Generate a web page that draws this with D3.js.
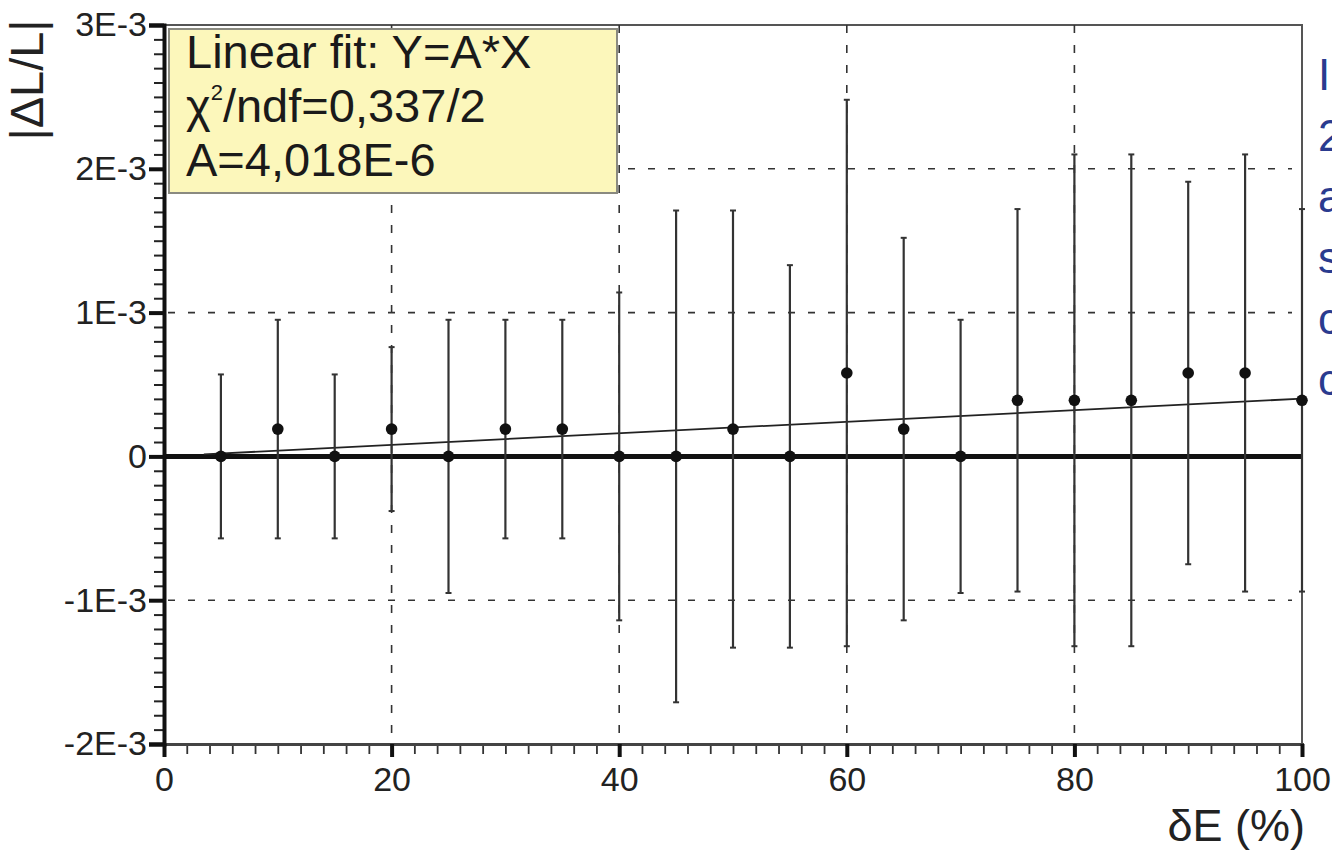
<!DOCTYPE html>
<html>
<head>
<meta charset="utf-8">
<script src="https://cdn.jsdelivr.net/npm/d3@7"></script>
<style>
  body { margin: 0; background: #fff; overflow: hidden; }
  text { font-family: "Liberation Sans", Arial, Helvetica, sans-serif; }
</style>
</head>
<body>
<svg id="chart" width="1332" height="852"></svg>
<script>
// Relative length change |ΔL/L| versus energy spread δE (%)
const energySpread = [5, 10, 15, 20, 25, 30, 35, 40, 45, 50, 55, 60, 65, 70, 75, 80, 85, 90, 95, 100];
const deltaL = [0, 0.19e-3, 0, 0.19e-3, 0, 0.19e-3, 0.19e-3, 0, 0, 0.19e-3,
                0, 0.58e-3, 0.19e-3, 0, 0.39e-3, 0.39e-3, 0.39e-3, 0.58e-3, 0.58e-3, 0.39e-3];
const deltaLErr = [0.57e-3, 0.76e-3, 0.57e-3, 0.57e-3, 0.95e-3, 0.76e-3, 0.76e-3, 1.14e-3, 1.71e-3, 1.52e-3,
                   1.33e-3, 1.9e-3, 1.33e-3, 0.95e-3, 1.33e-3, 1.71e-3, 1.71e-3, 1.33e-3, 1.52e-3, 1.33e-3];

// Linear fit Y = A*X
const fitSlope = 4.018e-6;
const fitRange = [3.5, 100];

const xTickValues = [0, 20, 40, 60, 80, 100];
const xTickLabels = ["0", "20", "40", "60", "80", "100"];
const yTickValues = [-2e-3, -1e-3, 0, 1e-3, 2e-3, 3e-3];
const yTickLabels = ["-2E-3", "-1E-3", "0", "1E-3", "2E-3", "3E-3"];
const xGridValues = [20, 40, 60, 80];
const yGridValues = [-1e-3, 1e-3, 2e-3];

// Caption text running off the right edge
const sideText = ["I", "2", "a", "s", "c", "c"];

const svg = d3.select("#chart");
const x = d3.scaleLinear().domain([0, 100]).range([164, 1302]);
const y = d3.scaleLinear().domain([-2e-3, 3e-3]).range([744, 25]);

const ink = "#222";

// frame (top and right)
svg.append("path")
  .attr("d", `M${x(0)},${y(3e-3)}H${x(100)}V${y(-2e-3)}`)
  .attr("fill", "none").attr("stroke", "#555").attr("stroke-width", 2);

// dashed grid
svg.append("g").selectAll("line").data(xGridValues).join("line")
  .attr("x1", d => x(d)).attr("x2", d => x(d))
  .attr("y1", y(3e-3)).attr("y2", y(-2e-3))
  .attr("stroke", "#333").attr("stroke-width", 1.6).attr("stroke-dasharray", "8,12");
svg.append("g").selectAll("line").data(yGridValues).join("line")
  .attr("x1", x(0) + 4).attr("x2", x(100) - 10)
  .attr("y1", d => y(d)).attr("y2", d => y(d))
  .attr("stroke", "#333").attr("stroke-width", 1.6).attr("stroke-dasharray", "7,13");

// zero reference line
svg.append("line")
  .attr("x1", x(0)).attr("x2", x(100))
  .attr("y1", y(0)).attr("y2", y(0))
  .attr("stroke", "#111").attr("stroke-width", 5);

// fit line
svg.append("line")
  .attr("x1", x(fitRange[0])).attr("x2", x(fitRange[1]))
  .attr("y1", y(fitSlope * fitRange[0])).attr("y2", y(fitSlope * fitRange[1]))
  .attr("stroke", "#222").attr("stroke-width", 1.8);

// error bars
const pts = energySpread.map((e, i) => ({ e, v: deltaL[i], err: deltaLErr[i] }));
const bars = svg.append("g");
bars.selectAll("line.bar").data(pts).join("line").attr("class", "bar")
  .attr("x1", d => x(d.e)).attr("x2", d => x(d.e))
  .attr("y1", d => y(d.v + d.err)).attr("y2", d => y(d.v - d.err))
  .attr("stroke", "#333").attr("stroke-width", 2.2);
bars.selectAll("line.capTop").data(pts).join("line").attr("class", "capTop")
  .attr("x1", d => x(d.e) - 3).attr("x2", d => x(d.e) + 3)
  .attr("y1", d => y(d.v + d.err)).attr("y2", d => y(d.v + d.err))
  .attr("stroke", "#333").attr("stroke-width", 2);
bars.selectAll("line.capBot").data(pts).join("line").attr("class", "capBot")
  .attr("x1", d => x(d.e) - 3).attr("x2", d => x(d.e) + 3)
  .attr("y1", d => y(d.v - d.err)).attr("y2", d => y(d.v - d.err))
  .attr("stroke", "#333").attr("stroke-width", 2);
bars.selectAll("circle").data(pts).join("circle")
  .attr("cx", d => x(d.e)).attr("cy", d => y(d.v)).attr("r", 5.8)
  .attr("fill", "#111");

// bottom axis: minor then major ticks
const minorX = d3.range(0, 101, 2);
const gxMinor = svg.append("g").attr("transform", `translate(0,${y(-2e-3)})`)
  .call(d3.axisBottom(x).tickValues(minorX).tickSize(10).tickFormat(""));
gxMinor.select(".domain").remove();
gxMinor.selectAll(".tick line").attr("stroke", "#333").attr("stroke-width", 1.8);

const gx = svg.append("g").attr("transform", `translate(0,${y(-2e-3)})`)
  .call(d3.axisBottom(x).tickValues(xTickValues).tickSize(13).tickPadding(10)
    .tickFormat((d, i) => xTickLabels[i]));
gx.select(".domain").attr("stroke", "#444").attr("stroke-width", 3);
gx.selectAll(".tick line").attr("stroke", "#111").attr("stroke-width", 4);
gx.selectAll(".tick text").attr("fill", ink).attr("font-size", 34)
  .attr("font-family", "Liberation Sans, Arial, sans-serif");

// left axis: minor then major ticks
const minorY = d3.range(-20, 31).map(i => i * 1e-4);
const gyMinor = svg.append("g").attr("transform", `translate(${x(0)},0)`)
  .call(d3.axisLeft(y).tickValues(minorY).tickSize(10).tickFormat(""));
gyMinor.select(".domain").remove();
gyMinor.selectAll(".tick line").attr("stroke", "#222").attr("stroke-width", 2);

const gy = svg.append("g").attr("transform", `translate(${x(0)},0)`)
  .call(d3.axisLeft(y).tickValues(yTickValues).tickSize(15).tickPadding(2)
    .tickFormat((d, i) => yTickLabels[i]));
gy.select(".domain").attr("stroke", "#111").attr("stroke-width", 4);
gy.selectAll(".tick line").attr("stroke", "#111").attr("stroke-width", 4);
gy.selectAll(".tick text").attr("fill", ink).attr("font-size", 34)
  .attr("font-family", "Liberation Sans, Arial, sans-serif");

// axis titles
svg.append("text")
  .attr("transform", "translate(43,80) rotate(-90)")
  .attr("text-anchor", "middle").attr("font-size", 47).attr("fill", ink)
  .text("|ΔL/L|");
svg.append("text")
  .attr("x", 1305).attr("y", 841).attr("text-anchor", "end")
  .attr("font-size", 45).attr("fill", ink)
  .text("δE (%)");

// fit statistics box
const box = svg.append("g");
box.append("rect")
  .attr("x", 169).attr("y", 29).attr("width", 448).attr("height", 164)
  .attr("fill", "#fcf7bb").attr("stroke", "#8a8a80").attr("stroke-width", 2);
const bt = box.append("g").attr("fill", "#1a1a1a").attr("font-size", 47);
bt.append("text").attr("x", 186).attr("y", 68).text("Linear fit: Y=A*X");
const chi = bt.append("text").attr("x", 186).attr("y", 122);
chi.append("tspan").text("χ");
chi.append("tspan").attr("font-size", 22).attr("dy", -22).text("2");
chi.append("tspan").attr("dy", 22).text("/ndf=0,337/2");
bt.append("text").attr("x", 186).attr("y", 176).text("A=4,018E-6");

// caption letters at right edge
svg.append("g").selectAll("text").data(sideText).join("text")
  .attr("x", 1318).attr("y", (d, i) => 90 + i * 61)
  .attr("font-size", 44).attr("fill", "#2a3b8f")
  .text(d => d);
</script>
</body>
</html>
